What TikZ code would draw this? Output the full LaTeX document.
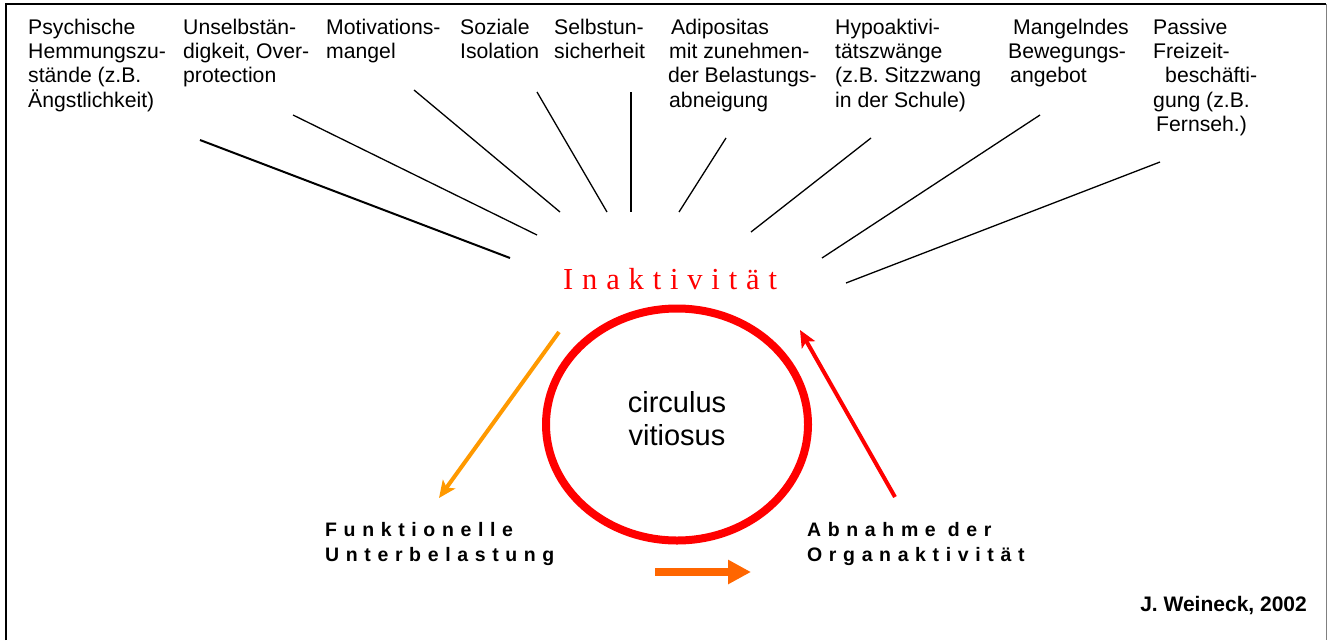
\documentclass[tikz,border=0pt]{standalone}
\usepackage{fontspec}
\setmainfont{Liberation Sans}
\newfontfamily\timesfont[LetterSpace=29]{Liberation Serif}
\newfontfamily\spacedbold[LetterSpace=34]{Liberation Sans Bold}
\usetikzlibrary{arrows.meta,shapes.geometric}
\definecolor{myred}{HTML}{FF0000}
\definecolor{myorange}{HTML}{FF9900}
\definecolor{mydorange}{HTML}{FF6600}
\tikzset{
  cause/.style={anchor=north west, inner sep=0pt, align=left, font=\fontsize{21.2}{24.4}\selectfont},
  ray/.style={draw=black, line width=1.3pt},
  spaced/.style={anchor=base west, inner sep=0pt, align=left, font=\spacedbold\fontsize{19.5}{24.5}\selectfont},
}
\begin{document}
\begin{tikzpicture}[x=1pt,y=-1pt]
\useasboundingbox (0,0) rectangle (1327,640);
% frame
\draw[line width=2.5pt] (6,640) -- (6,4) -- (1326,4);
\draw[line width=1pt, draw=gray] (1326,4) -- (1326,640);

% causes
\node[cause] (c1) at (28,18.5) {Psychische\\Hemmungszu-\\stände (z.B.\\Ängstlichkeit)};
\node[cause] (c2) at (183,18.5) {Unselbstän-\\digkeit, Over-\\protection};
\node[cause] (c3) at (326,18.5) {Motivations-\\mangel};
\node[cause] (c4) at (460,18.5) {Soziale\\Isolation};
\node[cause] (c5) at (554,18.5) {Selbstun-\\sicherheit};
\node[cause] (c6) at (668,18.5) {\hspace*{3pt}Adipositas\\\hspace*{1pt}mit zunehmen-\\der Belastungs-\\\hspace*{1pt}abneigung};
\node[cause] (c7) at (835,18.5) {Hypoaktivi-\\tätszwänge\\(z.B. Sitzzwang\\in der Schule)};
\node[cause] (c8) at (1008,18.5) {\hspace*{5pt}Mangelndes\\Bewegungs-\\\hspace*{2pt}angebot};
\node[cause] (c9) at (1153,18.5) {Passive\\Freizeit-\\\hspace*{12pt}beschäfti-\\gung (z.B.\\\hspace*{3pt}Fernseh.)};

% central
\node[anchor=base west, inner sep=0pt, text=myred, font=\timesfont\fontsize{30.5}{36}\selectfont] (inakt) at (563,289) {Inaktivität};
\node[draw=myred, line width=8pt, ellipse, minimum width=262pt, minimum height=232pt, inner sep=0pt] (circ) at (677,424.5) {};
\node[anchor=north, inner sep=0pt, align=center, font=\fontsize{29}{33}\selectfont] (cv) at (677,391) {circulus\\vitiosus};

\node[spaced] (fu) at (325,561) {Funktionelle\\Unterbelastung};
\node[spaced] (ab) at (807,561) {Abnahme der\\Organaktivität};
\node[anchor=base east, inner sep=0pt, font=\bfseries\fontsize{21}{24}\selectfont] (jw) at (1307,611) {J. Weineck, 2002};

% rays
\coordinate (r1a) at (200,140); \coordinate (r1b) at (510,258);
\coordinate (r2a) at (293,115); \coordinate (r2b) at (537,235);
\coordinate (r3a) at (414,90);  \coordinate (r3b) at (560,212);
\coordinate (r4a) at (537,92);  \coordinate (r4b) at (607,212);
\coordinate (r5a) at (631,92);  \coordinate (r5b) at (631,212);
\coordinate (r6a) at (726,138); \coordinate (r6b) at (679,212);
\coordinate (r7a) at (871,138); \coordinate (r7b) at (751,232);
\coordinate (r8a) at (1040,115);\coordinate (r8b) at (822,258);
\coordinate (r9a) at (1160,162);\coordinate (r9b) at (846,283);
\draw[ray, line width=2pt] (r1a) -- (r1b);
\foreach \i in {2,...,9} { \draw[ray] (r\i a) -- (r\i b); }

% cycle arrows
\coordinate (oa) at (559,332); \coordinate (ob) at (439,498);
\draw[draw=myorange, line width=4pt, -{Stealth[length=17pt,width=15pt,inset=4pt]}] (oa) -- (ob);
\coordinate (ra) at (895,497); \coordinate (rb) at (800,330);
\draw[draw=myred, line width=4pt, -{Stealth[length=17pt,width=15pt,inset=4pt]}] (ra) -- (rb);
\coordinate (ba) at (655,572); \coordinate (bb) at (751,572);
\draw[draw=mydorange, line width=8pt, -{Triangle[length=23pt,width=23pt]}] (ba) -- (bb);
\end{tikzpicture}
\end{document}
